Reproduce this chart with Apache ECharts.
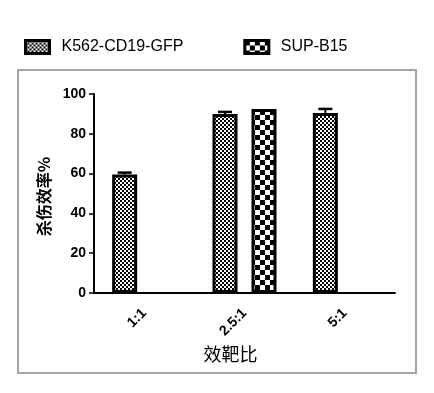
<!DOCTYPE html>
<html>
<head>
<meta charset="utf-8">
<script src="https://cdn.jsdelivr.net/npm/echarts@6/dist/echarts.min.js"></script>
<style>html,body{margin:0;padding:0;background:#fff;}#c{width:434px;height:393px;}</style>
</head>
<body>
<div id="c"></div>
<script>
var categories = ['1:1', '2.5:1', '5:1'];
var seriesNames = ['K562-CD19-GFP', 'SUP-B15'];
var k562Values = [59.5, 90, 90.5];
var k562Errors = [1, 1, 2];
var supValues = ['-', 92.5, '-'];
var supErrors = [0, 0, 0];
var yTicks = [0, 20, 40, 60, 80, 100];

function makePattern(cell) {
  var c = document.createElement('canvas');
  c.width = cell * 2; c.height = cell * 2;
  var ctx = c.getContext('2d');
  ctx.fillStyle = '#fff'; ctx.fillRect(0, 0, c.width, c.height);
  ctx.fillStyle = '#000';
  ctx.fillRect(0, 0, cell, cell);
  ctx.fillRect(cell, cell, cell, cell);
  return c;
}
var fine = { image: makePattern(2), repeat: 'repeat' };
var coarse = { image: makePattern(5), repeat: 'repeat' };

var BAR_W = 25, GAP = 14;
function errSeries(values, errors, offset) {
  var data = values.map(function (v, i) { return [i, v === '-' ? null : v, errors[i]]; })
    .filter(function (d) { return d[1] !== null && d[2] > 0; });
  return {
    type: 'custom',
    data: data,
    z: 5,
    silent: true,
    renderItem: function (params, api) {
      var idx = api.value(0), v = api.value(1), e = api.value(2);
      var p0 = api.coord([idx, v]);
      var p1 = api.coord([idx, v + e]);
      var x = p0[0] + offset;
      var half = 7;
      return {
        type: 'group',
        children: [
          { type: 'line', shape: { x1: x, y1: p0[1], x2: x, y2: p1[1] }, style: { stroke: '#000', lineWidth: 2 } },
          { type: 'line', shape: { x1: x - half, y1: p1[1], x2: x + half, y2: p1[1] }, style: { stroke: '#000', lineWidth: 2.5 } }
        ]
      };
    }
  };
}

var chart = echarts.init(document.getElementById('c'));
chart.setOption({
  animation: false,
  backgroundColor: '#fff',
  graphic: [{
    type: 'rect', shape: { x: 18, y: 70, width: 398, height: 303 },
    style: { fill: null, stroke: '#a4a4a4', lineWidth: 2 }, silent: true
  }],
  legend: {
    left: 19, top: 34,
    icon: 'rect',
    itemWidth: 24, itemHeight: 13, itemGap: 60,
    data: seriesNames,
    textStyle: { fontFamily: 'Liberation Sans, Arial', fontSize: 16, color: '#000', padding: [0, 0, 0, 7] },
    itemStyle: { borderWidth: 3, borderColor: '#000' }
  },
  grid: { left: 94, right: 39, top: 94, bottom: 100 },
  xAxis: {
    type: 'category',
    data: categories,
    name: '效靶比',
    nameLocation: 'middle',
    nameGap: 50,
    nameTextStyle: { fontFamily: 'Noto Sans CJK SC', fontSize: 18, color: '#000', padding: [0, 28, 0, 0] },
    axisLine: { lineStyle: { color: '#000', width: 2 } },
    axisTick: { alignWithLabel: true, length: 5, lineStyle: { color: '#000', width: 1.5 } },
    axisLabel: { rotate: 45, margin: 18, fontFamily: 'Liberation Sans, Arial', fontWeight: 'bold', fontSize: 14, color: '#000' }
  },
  yAxis: {
    type: 'value',
    min: 0, max: 100, interval: 20,
    name: '杀伤效率%',
    nameLocation: 'middle',
    nameGap: 40,
    nameTextStyle: { fontFamily: 'Noto Sans CJK SC', fontSize: 16, fontWeight: 'bold', color: '#000', padding: [0, 6, 0, 0] },
    axisLine: { show: true, lineStyle: { color: '#000', width: 2 } },
    axisTick: { show: true, length: 5, lineStyle: { color: '#000', width: 1.5 } },
    splitLine: { show: false },
    axisLabel: {
      margin: 8, fontFamily: 'Liberation Sans, Arial', fontWeight: 'bold', fontSize: 14, color: '#000',
      formatter: function (v) { return yTicks.indexOf(v) >= 0 ? String(v) : ''; }
    }
  },
  series: [
    {
      name: seriesNames[0], type: 'bar', data: k562Values,
      barWidth: BAR_W, barGap: (GAP / BAR_W * 100) + '%',
      itemStyle: { color: fine, borderColor: '#000', borderWidth: 3 }
    },
    {
      name: seriesNames[1], type: 'bar', data: supValues,
      barWidth: BAR_W,
      itemStyle: { color: coarse, borderColor: '#000', borderWidth: 3 }
    },
    errSeries(k562Values, k562Errors, -(BAR_W + GAP) / 2),
    errSeries(supValues, supErrors, (BAR_W + GAP) / 2)
  ]
});
</script>
</body>
</html>
